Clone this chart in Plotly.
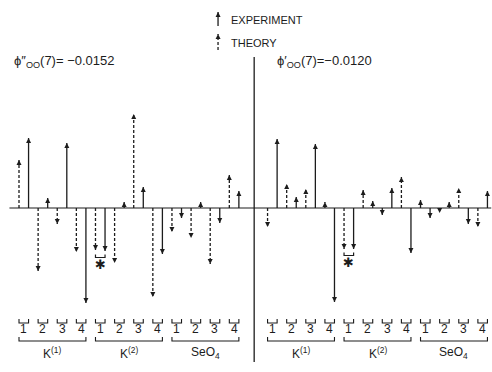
import plotly.graph_objects as go

# ---------------- data (relative units) ----------------
species = ["K<sup>(1)</sup>", "K<sup>(2)</sup>", "SeO<sub>4</sub>"]
atom_labels = ["1", "2", "3", "4"]

left_title = "ϕ″<sub>OO</sub>(7)= −0.0152"
right_title = "ϕ′<sub>OO</sub>(7)=−0.0120"

# 12 groups per panel (3 species x 4 atoms): theory (dashed) and experiment (solid)
left_theory = [48, -63, -16, -44, -42, -55, 94, -89, -24, -30, -56, 33]
left_expt = [70, 10, 65, -95, -43, 6, 21, -46, -10, 6, -15, 17]
right_theory = [-19, 24, 19, 6, -41, 18, -7, 31, 8, -5, 20, -19]
right_expt = [69, 11, 64, -94, -41, 7, 20, -45, -10, 6, -16, 17]
starred_group = 4  # index of the marked pair in each panel

# ---------------- layout constants ----------------
INK = "#1c1c1c"
FONT = "Liberation Sans"
W, H = 492, 372
X_RANGE = [-1.987, 49.477]
Y_RANGE = [-164, 208]
RIGHT_OFFSET = 26
DIVIDER_X = 24.6

fig = go.Figure()


def arrows(xs, vals, dash, base=None):
    bases = [0] * len(xs) if base is None else base
    lx, ly = [], []
    for x, v, b in zip(xs, vals, bases):
        lx += [x, x, None]
        ly += [b, v, None]
    fig.add_trace(go.Scatter(x=lx, y=ly, mode="lines",
                             line=dict(color=INK, width=1.3, dash=dash),
                             hoverinfo="skip", showlegend=False))
    fig.add_trace(go.Scatter(x=xs, y=vals, mode="markers",
                             marker=dict(symbol=["arrow-up" if v > b else "arrow-down"
                                                 for v, b in zip(vals, bases)],
                                         size=5, color=INK, line=dict(width=0)),
                             hoverinfo="skip", showlegend=False))


def bracket(x0, x1, ytop, ybot, width=1.1):
    fig.add_trace(go.Scatter(x=[x0, x0, x1, x1], y=[ytop, ybot, ybot, ytop], mode="lines",
                             line=dict(color=INK, width=width), hoverinfo="skip",
                             showlegend=False))


# baseline
fig.add_trace(go.Scatter(x=[-1.0, 49.4], y=[0, 0], mode="lines",
                         line=dict(color=INK, width=1.2), hoverinfo="skip", showlegend=False))
# divider
fig.add_trace(go.Scatter(x=[DIVIDER_X, DIVIDER_X], y=[151, -154], mode="lines",
                         line=dict(color=INK, width=1.3), hoverinfo="skip", showlegend=False))

annotations = []
for offset, theo, expt, title, tx in [
    (0, left_theory, left_expt, left_title, 12),
    (RIGHT_OFFSET, right_theory, right_expt, right_title, 275),
]:
    n = len(theo)
    xt = [offset + 2 * g for g in range(n)]
    xe = [offset + 2 * g + 1 for g in range(n)]
    arrows(xt, theo, "3px,2px")
    arrows(xe, expt, "solid")

    # star marker for the highlighted pair
    g = starred_group
    low = min(theo[g], expt[g])
    bracket(xt[g], xe[g], low - 3.5, low - 6.5, width=1.2)
    annotations.append(dict(x=(xt[g] + xe[g]) / 2, y=low - 13.5, text="✱", showarrow=False,
                            font=dict(family="DejaVu Sans", size=13, color=INK),
                            xanchor="center", yanchor="middle"))

    # small brackets with atom numbers, large brackets with species names
    for g in range(n):
        bracket(xt[g], xe[g], -111, -115)
        annotations.append(dict(x=(xt[g] + xe[g]) / 2, y=-121, text=atom_labels[g % 4],
                                showarrow=False, xanchor="center", yanchor="middle",
                                font=dict(family=FONT, size=12, color=INK)))
    for s, name in enumerate(species):
        a, b = xt[4 * s], xe[4 * s + 3]
        bracket(a, b, -129, -133)
        annotations.append(dict(x=(a + b) / 2, y=-145, text=name, showarrow=False,
                                xanchor="center", yanchor="middle",
                                font=dict(family=FONT, size=12, color=INK)))

    annotations.append(dict(xref="paper", yref="paper", x=tx / W, y=1 - 62 / H, text=title,
                            showarrow=False, xanchor="left", yanchor="middle",
                            font=dict(family=FONT, size=13, color=INK)))

# legend (drawn like the original key)
LEG_X = 20.82
arrows([LEG_X], [196], "solid", base=[182])
arrows([LEG_X], [174], "3px,2px", base=[158])
annotations.append(dict(x=21.95, y=188, text="EXPERIMENT", showarrow=False, xanchor="left",
                        yanchor="middle", font=dict(family=FONT, size=11, color=INK)))
annotations.append(dict(x=21.95, y=165, text="THEORY", showarrow=False, xanchor="left",
                        yanchor="middle", font=dict(family=FONT, size=11, color=INK)))

fig.update_layout(
    width=W, height=H,
    margin=dict(l=0, r=0, t=0, b=0),
    paper_bgcolor="white", plot_bgcolor="white",
    xaxis=dict(range=X_RANGE, visible=False, fixedrange=True),
    yaxis=dict(range=Y_RANGE, visible=False, fixedrange=True),
    annotations=annotations,
    showlegend=False,
)

fig.write_html("out.html", config={"displayModeBar": False},
               post_script="document.body.style.margin='0px';")
